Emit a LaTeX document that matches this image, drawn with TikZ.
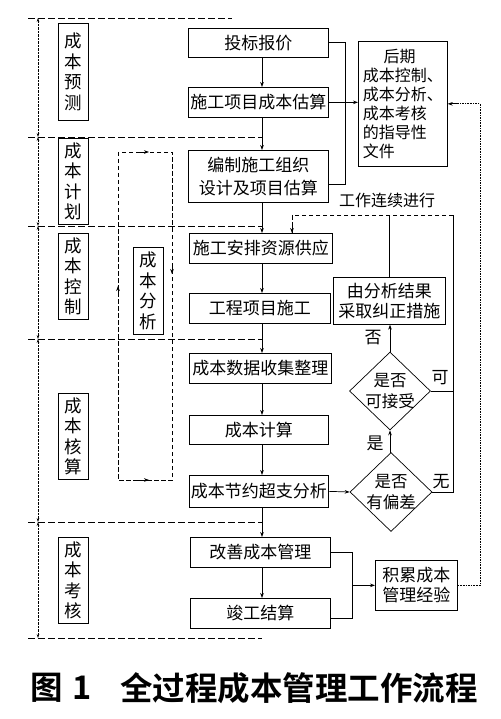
\documentclass[tikz,border=0pt]{standalone}
\usepackage{fontspec}
\newfontfamily\cjk[BoldFont={Noto Sans CJK SC Bold}]{Noto Sans CJK SC}
\usetikzlibrary{arrows.meta,shapes.geometric,calc}
\newcommand\fmain{\cjk\fontsize{17pt}{21pt}\selectfont}
\newcommand\fvert{\cjk\fontsize{17.5pt}{20.5pt}\selectfont}
\newcommand\fside{\cjk\fontsize{16pt}{19pt}\selectfont}
\newcommand\fcap{\cjk\bfseries\fontsize{32.5pt}{36pt}\selectfont}
\begin{document}
\begin{tikzpicture}[x=1pt,y=-1pt,
  box/.style={draw, line width=0.7pt, inner sep=0pt, anchor=north west, align=center, font=\fmain},
  vbox/.style={draw, line width=0.7pt, inner sep=0pt, anchor=north west, minimum width=30, align=center, font=\fvert},
  tipp/.style={-{Stealth[length=5pt,width=3.6pt]}},
  arr/.style={line width=0.7pt, tipp},
  ln/.style={line width=0.7pt},
  sepl/.style={line width=0.7pt, dash pattern=on 7pt off 3pt},
  dim/.style={line width=0.6pt, dash pattern=on 2.5pt off 1pt, {Stealth[length=4pt,width=2.6pt]}-{Stealth[length=4pt,width=2.6pt]}},
  lp/.style={line width=0.7pt, dash pattern=on 4.5pt off 2.5pt},
  dotl/.style={line width=0.7pt, dash pattern=on 1.6pt off 1pt},
  dia/.style={draw, diamond, line width=0.7pt, inner sep=0pt},
  lab/.style={font=\fmain, inner sep=0pt}
]
\useasboundingbox (0,0) rectangle (500,719);
\fill[white] (0,0) rectangle (500,719);

% ---- separators
\coordinate (s0) at (28,18);
\coordinate (s1) at (28,137);
\coordinate (s2) at (28,226);
\coordinate (s3) at (28,339);
\coordinate (s4) at (28,522);
\coordinate (s5) at (28,638);
\coordinate (main) at (262,0);
\draw[sepl] (s0) -- ++(204,0);
\foreach \s in {s1,s2,s3,s4,s5} \draw[sepl] (\s) -- (\s -| main);

% ---- dimension line
\coordinate (dx) at (38,0);
\draw[dim] (s0 -| dx) -- (s1 -| dx);
\draw[dim] (s1 -| dx) -- (s2 -| dx);
\draw[dim] (s2 -| dx) -- (s3 -| dx);
\draw[dim] (s3 -| dx) -- (s4 -| dx);
\draw[dim] (s4 -| dx) -- (s5 -| dx);

% ---- phase labels
\node[vbox, minimum height=97] (l1) at (58,23) {成\\本\\预\\测};
\node[vbox, minimum height=86] (l2) at (58,138) {成\\本\\计\\划};
\node[vbox, minimum height=86] (l3) at (58,233) {成\\本\\控\\制};
\node[vbox, minimum height=86] (l4) at (58,393) {成\\本\\核\\算};
\node[vbox, minimum height=86] (l5) at (58,537) {成\\本\\考\\核};

% ---- cost analysis loop
\node[vbox, minimum height=87] (fa) at (133,247) {成\\本\\分\\析};
\coordinate (la) at (118,152);
\coordinate (lc) at (172,480);
\draw[lp] (la) rectangle (lc);
\draw[arr] (118,294) -- (118,286);
\draw[arr] (172,266) -- (172,274);
\draw[arr] (138,152) -- (149,152);
\draw[arr] (138,480) -- (149,480);

% ---- main column
\node[box, minimum width=140, minimum height=29] (b1) at (188,28) {投标报价};
\node[box, minimum width=140, minimum height=30] (b2) at (188,87) {施工项目成本估算};
\node[box, minimum width=140, minimum height=52, font=\cjk\fontsize{17pt}{23pt}\selectfont] (b3) at (188,150) {编制施工组织\\设计及项目估算};
\node[box, minimum width=143, minimum height=30] (b4) at (189,233) {施工安排资源供应};
\node[box, minimum width=141, minimum height=30] (b5) at (189,293) {工程项目施工};
\node[box, minimum width=142, minimum height=30] (b6) at (189,353) {成本数据收集整理};
\node[box, minimum width=139, minimum height=29] (b7) at (189,415) {成本计算};
\node[box, minimum width=139, minimum height=32] (b8) at (189,475) {成本节约超支分析};
\node[box, minimum width=140, minimum height=30] (b9) at (190,537) {改善成本管理};
\node[box, minimum width=140, minimum height=30] (b10) at (190,598) {竣工结算};

\draw[arr] (b1.south -| main) -- (b2.north -| main);
\draw[arr] (b2.south -| main) -- (b3.north -| main);
\draw[arr] (b3.south -| main) -- (b4.north -| main);
\draw[arr] (b4.south -| main) -- (b5.north -| main);
\draw[arr] (b5.south -| main) -- (b6.north -| main);
\draw[arr] (b6.south -| main) -- (b7.north -| main);
\draw[arr] (b7.south -| main) -- (b8.north -| main);
\draw[arr] (b8.south -| main) -- (b9.north -| main);
\draw[arr] (b9.south -| main) -- (b10.north -| main);

% ---- guidance document
\node[draw, line width=0.7pt, anchor=north west, minimum width=89, minimum height=125, inner sep=0pt, align=left, font=\fside] (hq) at (358,41)
  {\hspace{1.3em}后期\\成本控制、\\成本分析、\\成本考核\\的指导性\\文件};
\coordinate (j1) at (345,0);
\draw[ln] (b1.east) -- (b1.east -| j1) |- ($(b3.south east)!0.35!(b3.north east)$);
\draw[arr] (b2.east) -- (b2.east -| hq.west);

% ---- feedback part
\node[lab, font=\fside] (go) at (387,200) {工作连续进行};
\node[box, minimum width=112, minimum height=47, font=\cjk\fontsize{17pt}{20pt}\selectfont] (fx) at (333,277) {由分析结果\\采取纠正措施};
\node[dia, minimum width=81, minimum height=78] (d1) at (390,391) {};
\node[align=center, inner sep=0pt, font=\cjk\fontsize{16.5pt}{21pt}\selectfont] at (d1) {是否\\可接受};
\node[dia, minimum width=82, minimum height=79] (d2) at (391,492) {};
\node[align=center, inner sep=0pt, font=\cjk\fontsize{16.5pt}{21pt}\selectfont] at (d2) {是否\\有偏差};

\draw[arr] (b8.east) -- (d2.west);
\draw[arr] (d2.north) -- (d1.north |- d2.north) -- (d1.south);
\draw[arr] (d1.north) -- (fx.south -| d1.north);
\node[lab] (no) at (373,338) {否};
\node[lab] (yes) at (375,443) {是};
\node[lab] (ok) at (440,378) {可};
\node[lab] (none) at (441,482) {无};

\coordinate (q) at (453,0);
\coordinate (t) at (0,215);
\coordinate (dr) at (292,0);
\draw[ln] (d1.east) -- (d1.east -| q);
\draw[ln] (d2.east) -- (d2.east -| q) -- (q |- t);
\draw[ln] (fx.north) -- (fx.north |- t);
\draw[lp] (q |- t) -- (dr |- t) -- (dr |- b4.north);
\draw[arr] ($(dr |- b4.north)+(0,-7)$) -- (dr |- b4.north);

% ---- experience accumulation
\node[box, minimum width=82, minimum height=50, font=\cjk\fontsize{17pt}{20pt}\selectfont] (acc) at (375,560) {积累成本\\管理经验};
\coordinate (m) at (352,0);
\draw[ln] (b9.east) -- (b9.east -| m) -- (m |- {$(b10.south east)!0.33!(b10.north east)$}) -- ($(b10.south east)!0.33!(b10.north east)$);
\draw[arr] (m |- acc.west) -- (acc.west);
\coordinate (rr) at (480,0);
\draw[dotl] (acc.east) -- (acc.east -| rr) -- (rr |- hq.east) -- ($(hq.east)+(8,0)$);
\draw[arr] ($(hq.east)+(8,0)$) -- (hq.east);

% ---- caption
\node[anchor=west, inner sep=0pt, font=\fcap] (c1) at (30,688) {图\hspace{0.3em}1};
\node[anchor=west, inner sep=0pt, font=\fcap] (c2) at (120,688) {全过程成本管理工作流程};
\end{tikzpicture}
\end{document}
